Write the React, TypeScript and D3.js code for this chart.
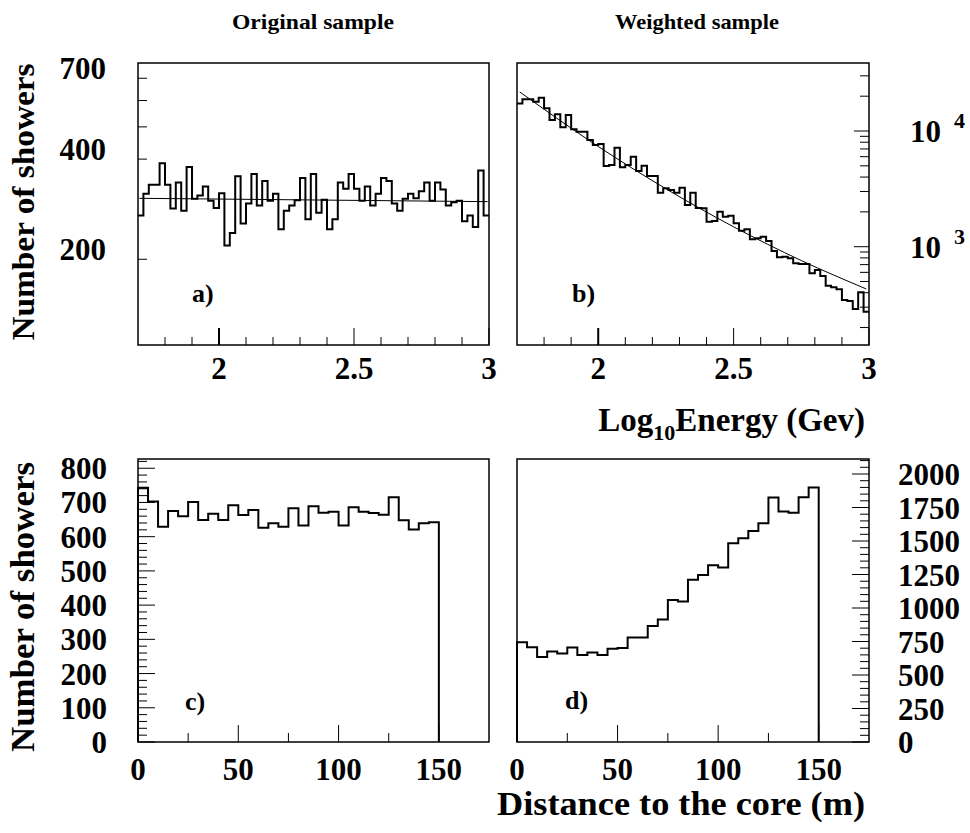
import React from "react";
import * as d3 from "d3";

// ---------- data ----------
const energyBinStart = 1.7;
const energyBinWidth = 0.02;
const originalEnergyCounts = [
  271, 315, 335, 335, 389, 335, 284, 340, 280, 379,
  304, 311, 331, 300, 285, 316, 220, 240, 355, 256,
  294, 361, 290, 344, 300, 315, 246, 280, 290, 301,
  351, 264, 361, 276, 302, 246, 264, 340, 326, 361,
  326, 300, 331, 290, 315, 351, 344, 294, 280, 304,
  315, 305, 320, 340, 300, 340, 324, 290, 297, 300,
  260, 271, 250, 370, 271,
];
const weightedEnergyCounts = [
  17330, 18780, 18780, 17930, 19410, 15710, 12450, 13940, 10770, 13750,
  10340, 9860, 9860, 8350, 7560, 7720, 4980, 5080, 7180, 4850,
  5080, 6000, 4510, 5020, 4085, 4085, 2930, 3195, 3090, 2930,
  3235, 2290, 2930, 2160, 2145, 1644, 1667, 2008, 1817, 1853,
  1591, 1375, 1412, 1157, 1181, 1220, 1119, 917, 809, 819,
  793, 718, 708, 708, 588, 629, 557, 460, 445, 428,
  346, 339, 289, 403, 274,
];
const originalFitX = [1.705, 2.995];
const originalFitY = [305, 298];
const weightedFitX = [1.71, 2.0, 2.25, 2.5, 2.75, 2.99];
const weightedFitY = [21780, 7350, 3166, 1485, 759, 431];

const distBinStart = 0;
const distBinWidth = 5;
const originalDistCounts = [
  743, 703, 629, 675, 660, 701, 649, 667, 649, 692,
  663, 678, 626, 639, 629, 683, 633, 689, 670, 673,
  633, 686, 673, 669, 664, 715, 648, 621, 639, 642,
];
const weightedDistCounts = [
  745, 708, 634, 676, 661, 706, 649, 668, 649, 696,
  701, 780, 780, 865, 914, 1059, 1049, 1210, 1247, 1320,
  1302, 1484, 1521, 1575, 1633, 1824, 1720, 1710, 1826, 1899,
];

// ticks
const energyMajorTicks = [2, 2.5, 3];
const energyMinorTicks = [1.8, 1.9, 2.1, 2.2, 2.3, 2.4, 2.6, 2.7, 2.8, 2.9];
const energyTickLabels = ["2", "2.5", "3"];
const origLogTicks = [200, 400, 500, 600, 700];
const origLogLabels = [200, 400, 700];
const weightedLogMajor = [1000, 10000];
const weightedLogMinor = [200, 300, 400, 500, 600, 700, 800, 900, 2000, 3000, 4000, 5000, 6000, 7000, 8000, 9000, 20000, 30000];
const weightedLogExp = ["3", "4"];
const distMajorTicks = [50, 100, 150];
const distMinorTicks = [25, 75, 125];
const distLabels = [0, 50, 100, 150];
const origCountLabels = [0, 100, 200, 300, 400, 500, 600, 700, 800];
const origCountMinorStep = 20;
const weightedCountLabels = [0, 250, 500, 750, 1000, 1250, 1500, 1750, 2000];
const weightedCountMinorStep = 50;

// ---------- layout ----------
const FONT = "Liberation Serif, Times New Roman, DejaVu Serif, serif";
const LX0 = 138, LX1 = 489, RX0 = 517, RX1 = 869;
const TY0 = 63, TY1 = 345, BY0 = 459, BY1 = 742;

function stepPath(x, y, start, width, counts, closeToZero) {
  const pts = counts.map((c, i) => [start + i * width, c]);
  pts.push([start + counts.length * width, counts[counts.length - 1]]);
  if (closeToZero) {
    pts.unshift([start, 0]);
    pts.push([start + counts.length * width, 0]);
  }
  return d3.line().x((d) => x(d[0])).y((d) => y(d[1])).curve(d3.curveStepAfter)(pts);
}

const T = (props) => <text {...props} style={{ fontFamily: FONT, fontWeight: 700, ...(props.style || {}) }} />;

export default function App() {
  const xA = d3.scaleLinear().domain([1.7, 3]).range([LX0, LX1]);
  const xB = d3.scaleLinear().domain([1.7, 3]).range([RX0, RX1]);
  const yA = d3.scaleLog().domain([110.5, 778]).range([TY1, TY0]);
  const yB = d3.scaleLog().domain([141.3, 38730]).range([TY1, TY0]);
  const xC = d3.scaleLinear().domain([0, 175]).range([LX0, LX1]);
  const xD = d3.scaleLinear().domain([0, 175]).range([RX0, RX1]);
  const yC = d3.scaleLinear().domain([0, 827]).range([BY1, BY0]);
  const yD = d3.scaleLinear().domain([0, 2112]).range([BY1, BY0]);

  const fitA = d3.line().x((d) => xA(d[0])).y((d) => yA(d[1]))(originalFitX.map((v, i) => [v, originalFitY[i]]));
  const fitB = d3.line().x((d) => xB(d[0])).y((d) => yB(d[1])).curve(d3.curveMonotoneX)(weightedFitX.map((v, i) => [v, weightedFitY[i]]));

  const TS = 31;

  const energyAxis = (x, yb) => (
    <g>
      {energyMajorTicks.map((t) => (
        <line key={"M" + t} x1={x(t)} x2={x(t)} y1={yb} y2={yb - 17} stroke="#000" strokeWidth={t === 2 ? 2 : 1} />
      ))}
      {energyMinorTicks.map((t) => (
        <line key={"m" + t} x1={x(t)} x2={x(t)} y1={yb} y2={yb - 8} stroke="#000" strokeWidth={1} />
      ))}
      {energyMajorTicks.map((t, i) => (
        <T key={"l" + t} x={x(t)} y={yb + 34} textAnchor="middle" fontSize={TS}>{energyTickLabels[i]}</T>
      ))}
    </g>
  );

  const distAxis = (x, yb) => (
    <g>
      {distMajorTicks.map((t) => (
        <line key={"M" + t} x1={x(t)} x2={x(t)} y1={yb} y2={yb - 17} stroke="#000" strokeWidth={1} />
      ))}
      {distMinorTicks.map((t) => (
        <line key={"m" + t} x1={x(t)} x2={x(t)} y1={yb} y2={yb - 9} stroke="#000" strokeWidth={1} />
      ))}
      {distLabels.map((t) => (
        <T key={"l" + t} x={x(t)} y={yb + 38} textAnchor="middle" fontSize={TS}>{t}</T>
      ))}
    </g>
  );

  const cMinor = d3.range(0, 827, origCountMinorStep);
  const dMinor = d3.range(0, 2112, weightedCountMinorStep);

  return (
    <svg width={970} height={833} style={{ position: "absolute", left: 0, top: 0, background: "#fff" }}>
      <rect x={0} y={0} width={970} height={833} fill="#fff" />
      {/* titles */}
      <T x={313} y={29} textAnchor="middle" fontSize={21} textLength={162} lengthAdjust="spacingAndGlyphs">Original sample</T>
      <T x={697} y={29} textAnchor="middle" fontSize={21} textLength={164} lengthAdjust="spacingAndGlyphs">Weighted sample</T>

      {/* y titles */}
      <T transform="translate(34,202) rotate(-90)" textAnchor="middle" fontSize={32} textLength={277} lengthAdjust="spacingAndGlyphs">Number of showers</T>
      <T transform="translate(34,607) rotate(-90)" textAnchor="middle" fontSize={33} textLength={290} lengthAdjust="spacingAndGlyphs">Number of showers</T>

      {/* ---------- panel a ---------- */}
      <g>
        <path d={stepPath(xA, yA, energyBinStart, energyBinWidth, originalEnergyCounts, false)} fill="none" stroke="#000" strokeWidth={2} />
        <path d={fitA} fill="none" stroke="#000" strokeWidth={1} />
        {origLogTicks.map((t) => (
          <line key={t} x1={LX0} x2={LX0 + 9} y1={yA(t)} y2={yA(t)} stroke="#000" strokeWidth={1} />
        ))}
        {origLogLabels.map((t) => (
          <T key={"l" + t} x={106} y={yA(t) + 1} textAnchor="end" fontSize={TS}>{t}</T>
        ))}
        {energyAxis(xA, TY1)}
        <rect x={LX0} y={TY0} width={LX1 - LX0} height={TY1 - TY0} fill="none" stroke="#000" strokeWidth={1.5} />
        <T x={192} y={302} fontSize={26}>a)</T>
      </g>

      {/* ---------- panel b ---------- */}
      <g>
        <path d={stepPath(xB, yB, energyBinStart, energyBinWidth, weightedEnergyCounts, false)} fill="none" stroke="#000" strokeWidth={2} />
        <path d={fitB} fill="none" stroke="#000" strokeWidth={1} />
        {weightedLogMinor.map((t) => (
          <line key={t} x1={RX1} x2={RX1 - 9} y1={yB(t)} y2={yB(t)} stroke="#000" strokeWidth={1} />
        ))}
        {weightedLogMajor.map((t) => (
          <line key={"M" + t} x1={RX1} x2={RX1 - 15} y1={yB(t)} y2={yB(t)} stroke="#000" strokeWidth={1} />
        ))}
        {weightedLogMajor.map((t, i) => (
          <g key={"l" + t}>
            <T x={910} y={yB(t) + 11} fontSize={TS}>10</T>
            <T x={954} y={yB(t) - 3} fontSize={22}>{weightedLogExp[i]}</T>
          </g>
        ))}
        {energyAxis(xB, TY1)}
        <rect x={RX0} y={TY0} width={RX1 - RX0} height={TY1 - TY0} fill="none" stroke="#000" strokeWidth={1.5} />
        <T x={572} y={302} fontSize={26}>b)</T>
      </g>

      {/* energy title */}
      <T x={865} y={431} textAnchor="end" fontSize={33}>
        Log<tspan fontSize={22} dy={9}>10</tspan><tspan dy={-9}>Energy (Gev)</tspan>
      </T>

      {/* ---------- panel c ---------- */}
      <g>
        <path d={stepPath(xC, yC, distBinStart, distBinWidth, originalDistCounts, true)} fill="none" stroke="#000" strokeWidth={2} />
        {cMinor.map((t) => (
          <line key={t} x1={LX0} x2={LX0 + (t % 100 === 0 ? 17 : 9)} y1={yC(t)} y2={yC(t)} stroke="#000" strokeWidth={1} />
        ))}
        {origCountLabels.map((t) => (
          <T key={"l" + t} x={107} y={yC(t) + 11} textAnchor="end" fontSize={TS}>{t}</T>
        ))}
        {distAxis(xC, BY1)}
        <rect x={LX0} y={BY0} width={LX1 - LX0} height={BY1 - BY0} fill="none" stroke="#000" strokeWidth={1.5} />
        <T x={185} y={710} fontSize={26}>c)</T>
      </g>

      {/* ---------- panel d ---------- */}
      <g>
        <path d={stepPath(xD, yD, distBinStart, distBinWidth, weightedDistCounts, true)} fill="none" stroke="#000" strokeWidth={2} />
        {dMinor.map((t) => (
          <line key={t} x1={RX1} x2={RX1 - (t % 250 === 0 ? 17 : 9)} y1={yD(t)} y2={yD(t)} stroke="#000" strokeWidth={1} />
        ))}
        {weightedCountLabels.map((t) => (
          <T key={"l" + t} x={898} y={yD(t) + 11} fontSize={TS}>{t}</T>
        ))}
        {distAxis(xD, BY1)}
        <rect x={RX0} y={BY0} width={RX1 - RX0} height={BY1 - BY0} fill="none" stroke="#000" strokeWidth={1.5} />
        <T x={565} y={709} fontSize={26}>d)</T>
      </g>

      <T x={865} y={815} textAnchor="end" fontSize={34} textLength={368} lengthAdjust="spacingAndGlyphs">Distance to the core (m)</T>
    </svg>
  );
}
